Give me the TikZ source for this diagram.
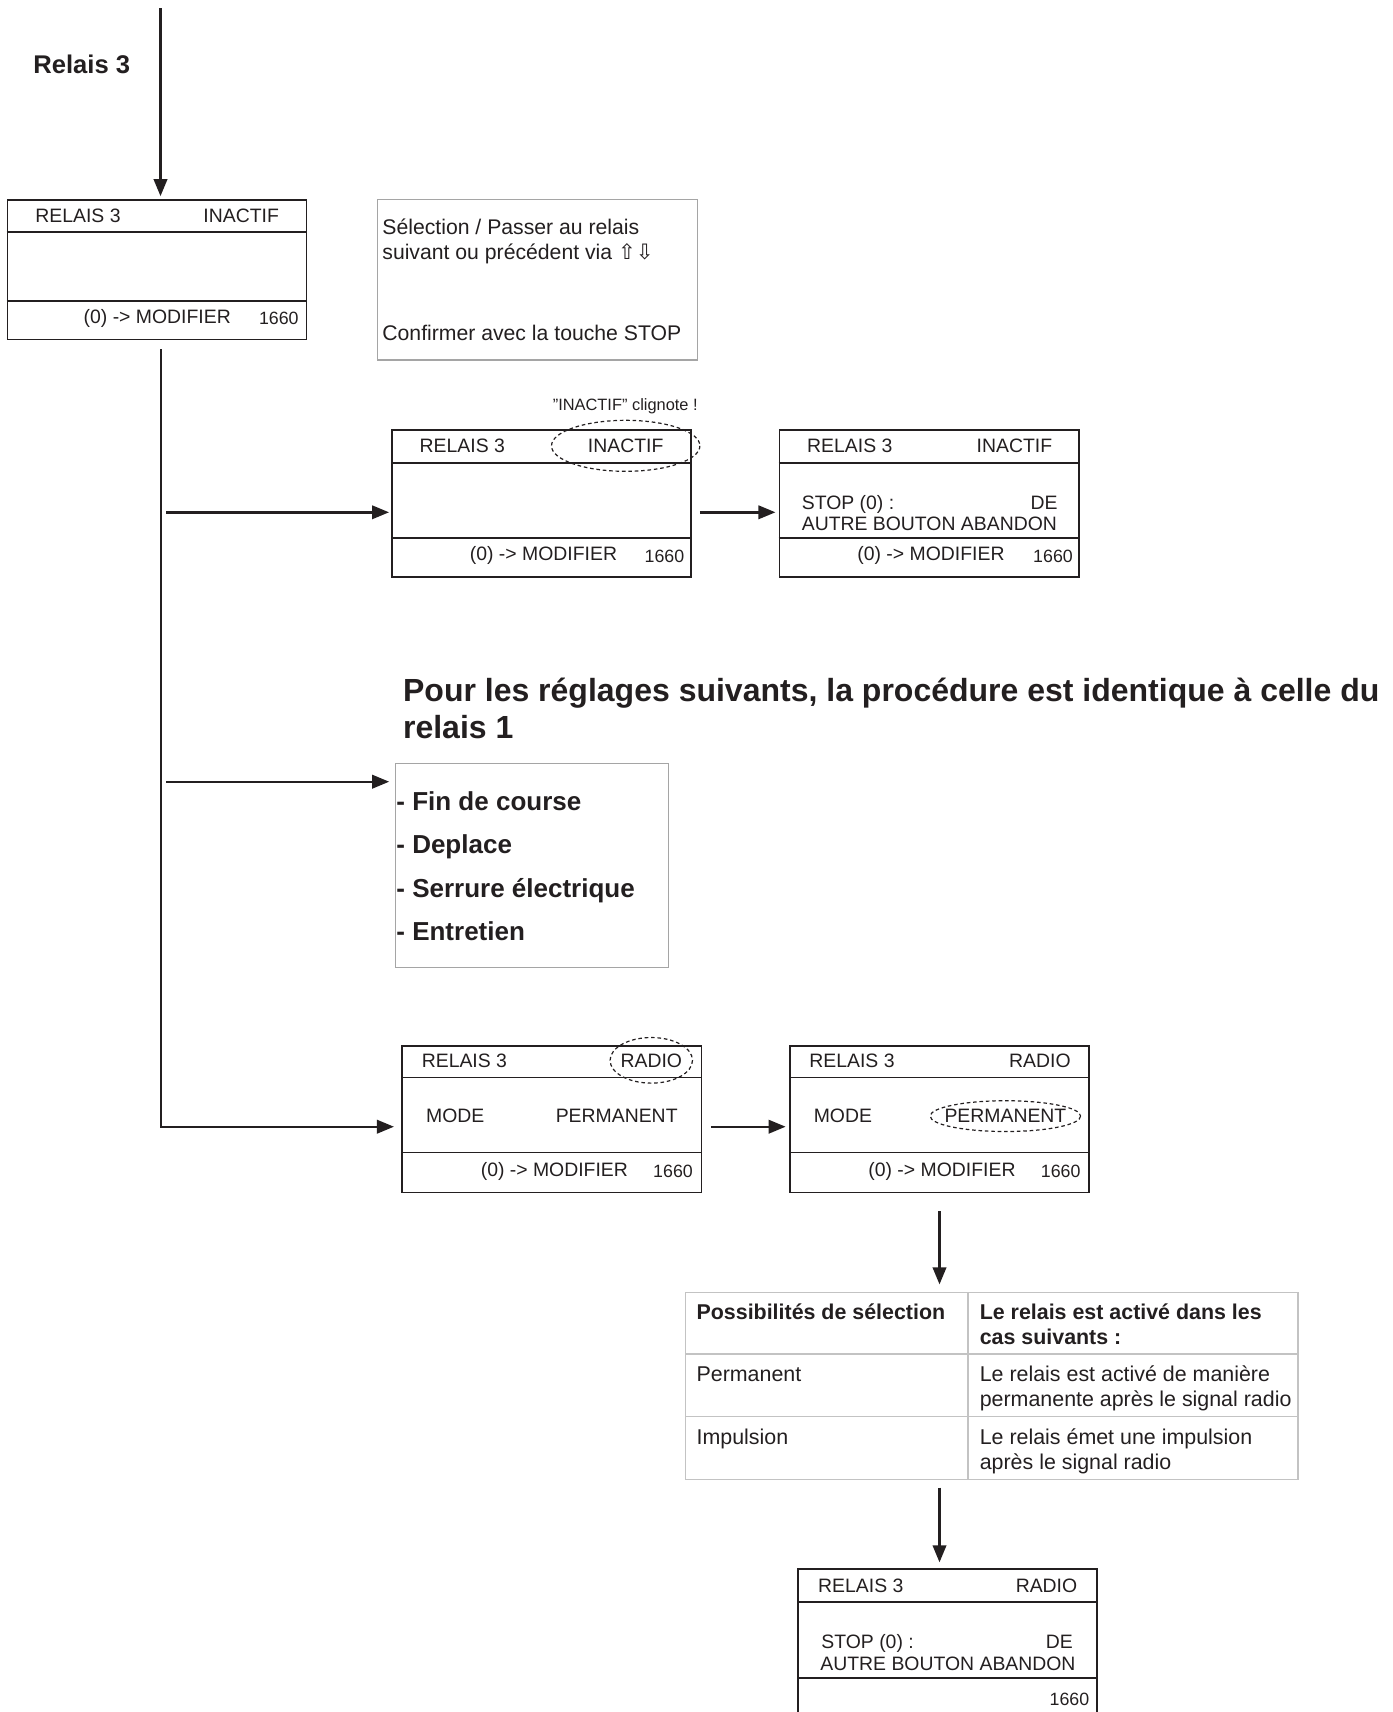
\documentclass[tikz,border=0pt]{standalone}
\usepackage{fontspec}
\setmainfont{Liberation Sans}
\newfontfamily\arrowfont{DejaVu Sans}
\usepackage{xcolor}
\usepackage{tikz}
\usetikzlibrary{arrows.meta}
\definecolor{ink}{RGB}{35,31,32}
\definecolor{boxgray}{RGB}{165,165,165}
\definecolor{tblgray}{RGB}{195,195,195}

\begin{document}
\begin{tikzpicture}[
  x=1pt, y=-1pt,
  >={Triangle[length=8.5pt,width=6.7pt]},
  every node/.style={inner sep=0pt, text=ink, font=\fontsize{9.7}{11}\selectfont},
  scr/.style    = {draw=ink, line width=0.85pt, minimum width=149.6pt, minimum height=73.3pt},
  divln/.style  = {draw=ink, line width=0.85pt},
  arr/.style    = {->, draw=ink, line width=1.2pt},
  pane/.style   = {draw=boxgray, line width=0.6pt},
  tblbox/.style = {draw=tblgray, line width=0.6pt},
  tblln/.style  = {draw=tblgray, line width=0.6pt},
  blink/.style  = {draw=ink, line width=0.6pt, dash pattern=on 1.8pt off 1.4pt},
  txl/.style    = {anchor=base west},
  txr/.style    = {anchor=base east},
  num/.style    = {anchor=base east, font=\fontsize{8.9}{10}\selectfont},
  note/.style   = {anchor=base west, align=left, font=\fontsize{10.6}{12.6}\selectfont},
  cell/.style   = {anchor=base west, align=left, font=\fontsize{10.7}{12.5}\selectfont},
  hd/.style     = {cell, font=\bfseries\fontsize{10.7}{12.5}\selectfont}
]
\useasboundingbox (0,0) rectangle (696,856);
\clip (0,0) rectangle (696,856);

%% ===== Relais 3, first screen =====
\node[anchor=base west, font=\bfseries\fontsize{12.8}{14}\selectfont] (title) at (16.5,37) {Relais 3};

\node[scr, minimum height=69.75pt] (b1) at (78.5,134.9) {};
\draw[divln] (b1.west |- 0,116) -- (b1.east |- 0,116);
\draw[divln] (b1.west |- 0,150.4) -- (b1.east |- 0,150.4);
\node[txl] (b1a) at (17.5,111.15) {RELAIS 3};
\node[txr] (b1b) at (139.65,111.15) {INACTIF};
\node[txl] (b1c) at (41.65,161.65) {(0) -> MODIFIER};
\node[num] (b1d) at (149.5,162) {1660};

% multi-line nodes sit on their last baseline
\node[pane, minimum width=160pt, minimum height=80.35pt] (info) at (268.85,139.8) {};
\node[note] (infotxt) at (191,129.9) {Sélection / Passer au relais\\suivant ou précédent via {\arrowfont ⇧⇩}};
\node[note] (infoconf) at (191,170.3) {Confirmer avec la touche STOP};

%% ===== INACTIF blinks =====
\node[anchor=base west, font=\fontsize{8.2}{9}\selectfont] (blinknote) at (276.2,205) {"INACTIF" clignote !};

\node[scr] (b2) at (270.75,251.7) {};
\draw[divln] (b2.west |- 0,231.45) -- (b2.east |- 0,231.45);
\draw[divln] (b2.west |- 0,269.15) -- (b2.east |- 0,269.15);
\node[txl] (b2a) at (209.65,226.25) {RELAIS 3};
\node[txr] (b2b) at (331.9,226.25) {INACTIF};
\node[txl] (b2c) at (234.75,280.4) {(0) -> MODIFIER};
\node[num] (b2d) at (342.3,281) {1660};
\draw[blink] (b2b) ellipse [x radius=37.1, y radius=12.75];

\node[scr] (b3) at (464.55,251.7) {};
\draw[divln] (b3.west |- 0,231.45) -- (b3.east |- 0,231.45);
\draw[divln] (b3.west |- 0,269.15) -- (b3.east |- 0,269.15);
\node[txl] (b3a) at (403.4,226.25) {RELAIS 3};
\node[txr] (b3b) at (526.25,226.25) {INACTIF};
\node[txl] (b3c) at (400.7,254.5) {STOP (0) :};
\node[txr] (b3d) at (529,254.5) {DE};
\node[txl] (b3e) at (400.7,265) {AUTRE BOUTON ABANDON};
\node[txl] (b3f) at (428.5,280.4) {(0) -> MODIFIER};
\node[num] (b3g) at (536.6,281) {1660};

%% ===== same procedure as relais 1 =====
\node[anchor=base west, align=left, font=\bfseries\fontsize{16}{18.5}\selectfont] (head) at (201.35,369)
  {Pour les réglages suivants, la procédure est identique à celle du\\relais 1};

\node[pane, minimum width=136.5pt, minimum height=102pt] (lst) at (265.85,432.65) {};
\node[anchor=base west, align=left, font=\bfseries\fontsize{13}{21.8}\selectfont] (lsttxt) at (198,470.4)
  {- Fin de course\\- Deplace\\- Serrure électrique\\- Entretien};

%% ===== RADIO / PERMANENT =====
\node[scr] (b4) at (275.9,559.6) {};
\draw[divln] (b4.west |- 0,538.8) -- (b4.east |- 0,538.8);
\draw[divln] (b4.west |- 0,576.3) -- (b4.east |- 0,576.3);
\node[txl] (b4a) at (210.7,533.5) {RELAIS 3};
\node[txr] (b4b) at (341.2,533.5) {RADIO};
\node[txl] (b4c) at (212.9,561.4) {MODE};
\node[txr] (b4d) at (339,561.4) {PERMANENT};
\node[txl] (b4e) at (240.2,588) {(0) -> MODIFIER};
\node[num] (b4f) at (346.6,588.5) {1660};
\draw[blink] (b4b) ellipse [x radius=20.6, y radius=11.4];

\node[scr] (b5) at (469.75,559.6) {};
\draw[divln] (b5.west |- 0,538.8) -- (b5.east |- 0,538.8);
\draw[divln] (b5.west |- 0,576.3) -- (b5.east |- 0,576.3);
\node[txl] (b5a) at (404.5,533.5) {RELAIS 3};
\node[txr] (b5b) at (535.5,533.5) {RADIO};
\node[txl] (b5c) at (406.7,561.4) {MODE};
\node[txr] (b5d) at (533.35,561.4) {PERMANENT};
\node[txl] (b5e) at (434,588) {(0) -> MODIFIER};
\node[num] (b5f) at (540.45,588.5) {1660};
\draw[blink] (b5d) ellipse [x radius=37.6, y radius=7.7];

%% ===== selection table =====
\node[tblbox, minimum width=306.2pt, minimum height=93.35pt] (tab) at (495.9,693.03) {};
\draw[tblln] (484,0 |- tab.north) -- (484,0 |- tab.south);
\draw[tblln] (tab.west |- 0,676.95) -- (tab.east |- 0,676.95);
\draw[tblln] (tab.west |- 0,708.3) -- (tab.east |- 0,708.3);
\node[hd] (h1) at (348.1,659.5) {Possibilités de sélection};
\node[hd] (h2) at (489.7,672) {Le relais est activé dans les\\cas suivants :};
\node[cell] (r1a) at (348.1,690.6) {Permanent};
\node[cell] (r1b) at (489.7,703.1) {Le relais est activé de manière\\permanente après le signal radio};
\node[cell] (r2a) at (348.1,722.2) {Impulsion};
\node[cell] (r2b) at (489.7,734.7) {Le relais émet une impulsion\\après le signal radio};

%% ===== last screen =====
\node[scr] (b6) at (473.85,821) {};
\draw[divln] (b6.west |- 0,801.15) -- (b6.east |- 0,801.15);
\draw[divln] (b6.west |- 0,839.15) -- (b6.east |- 0,839.15);
\node[txl] (b6a) at (408.9,796.2) {RELAIS 3};
\node[txr] (b6b) at (538.8,796.2) {RADIO};
\node[txl] (b6c) at (410.5,824) {STOP (0) :};
\node[txr] (b6d) at (536.6,824) {DE};
\node[txl] (b6e) at (410,835) {AUTRE BOUTON ABANDON};
\node[num] (b6f) at (544.8,852.5) {1660};

%% ===== connectors =====
\coordinate (top) at (80.25,4.25);
\coordinate (sp0) at (80.5,174.65);
\coordinate (sp1) at (83,256.15);
\coordinate (sp2) at (83,390.85);
\coordinate (sp3) at (80.5,563.35);

\draw[arr, shorten >=1.5pt] (top) -- (top |- b1.north);
\draw[arr, shorten >=3.7pt] (sp0) -- (sp3) -- (sp3 -| b4.west);
\draw[arr, shorten >=1pt] (sp1) -- (sp1 -| b2.west);
\draw[arr, shorten >=2.7pt] (sp2) -- (sp2 -| lst.west);
\draw[arr, shorten <=3.9pt, shorten >=1.6pt] (b2.east |- sp1) -- (b3.west |- sp1);
\draw[arr, shorten <=4.3pt, shorten >=1.7pt] (b4.east |- sp3) -- (b5.west |- sp3);
\draw[arr, shorten <=9pt, shorten >=3.85pt] (b5.south) -- (b5.south |- tab.north);
\draw[arr, shorten <=3.8pt, shorten >=2.75pt] (b5.south |- tab.south) -- (b5.south |- b6.north);

\end{tikzpicture}
\end{document}
